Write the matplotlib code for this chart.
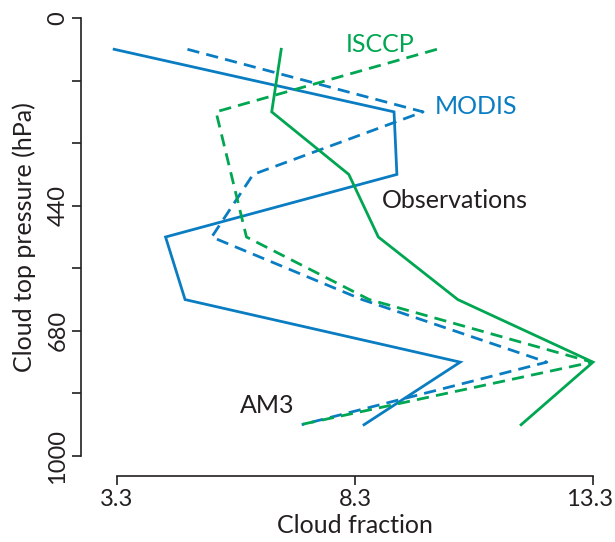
import matplotlib
matplotlib.use("Agg")
import matplotlib.pyplot as plt
import matplotlib.transforms as mtransforms
import numpy as np

# Pressure bin edges (hPa) and labelled edges
bin_edges = [0, 180, 310, 440, 560, 680, 800, 1000]
labelled_edges = [0, 440, 680, 1000]
x_ticks = [3.3, 8.3, 13.3]

# Cloud fraction per pressure bin (top to bottom)
modis_obs = [3.24, 9.12, 9.18, 4.32, 4.73, 10.51, 8.49]
modis_am3 = [4.78, 9.73, 6.16, 5.29, 8.45, 12.33, 7.18]
isccp_obs = [6.75, 6.55, 8.17, 8.79, 10.46, 13.30, 11.79]
isccp_am3 = [10.02, 5.38, 5.70, 6.02, 8.60, 13.28, 7.15]

BLUE = "#0A7DC2"
GREEN = "#00A651"
DARK = "#231F20"

plt.rcParams['font.family'] = ['Lato', 'DejaVu Sans']

fig = plt.figure(figsize=(6.15, 5.42), dpi=100)
W, H = 615, 542
ax = fig.add_axes([117 / W, (H - 456) / H, 476 / W, 438 / H])

n = len(bin_edges) - 1
centers = np.arange(n) + 0.5

lw = 2.0
dash = (0, (4.4, 2.6))
ax.plot(modis_obs, centers, color=BLUE, lw=lw, clip_on=False, solid_joinstyle='miter')
ax.plot(modis_am3, centers, color=BLUE, lw=lw, ls=dash, clip_on=False)
ax.plot(isccp_obs, centers, color=GREEN, lw=lw, clip_on=False, solid_joinstyle='miter')
ax.plot(isccp_am3, centers, color=GREEN, lw=lw, ls=dash, clip_on=False)

ax.set_xlim(3.3, 13.3)
ax.set_ylim(n, 0)

fs = 18
ax.text(8.83, 0.42, "ISCCP", color=GREEN, fontsize=fs, ha='center', va='center')
ax.text(10.84, 1.42, "MODIS", color=BLUE, fontsize=fs, ha='center', va='center')
ax.text(10.40, 2.92, "Observations", color=DARK, fontsize=fs, ha='center', va='center')
ax.text(6.45, 6.20, "AM3", color=DARK, fontsize=fs, ha='center', va='center')

# Axes styling
for s in ['top', 'right']:
    ax.spines[s].set_visible(False)
ax.spines['left'].set_position(('outward', 36 * 0.72))
ax.spines['bottom'].set_position(('outward', 20 * 0.72))
ax.spines['left'].set_bounds(0, n)
ax.spines['bottom'].set_bounds(3.3, 13.3)
for s in ['left', 'bottom']:
    ax.spines[s].set_linewidth(1.2)
    ax.spines[s].set_color(DARK)

major_idx = [bin_edges.index(p) for p in labelled_edges]
minor_idx = [i for i in range(len(bin_edges)) if i not in major_idx]
ax.set_yticks(major_idx)
ax.set_yticklabels([str(p) for p in labelled_edges], rotation=90, va='center')
ax.set_yticks(minor_idx, minor=True)
ax.set_xticks(x_ticks)
ax.set_xticklabels([f"{v:.1f}" for v in x_ticks])

ax.tick_params(axis='both', which='both', direction='out', length=6.5, width=1.2,
               color=DARK, labelcolor=DARK, labelsize=17, pad=2.5)

# nudge the last x tick label so it stays inside the figure
last = ax.get_xticklabels()[-1]
last.set_transform(last.get_transform() +
                   mtransforms.ScaledTranslation(-3 / 100, 0, fig.dpi_scale_trans))

ax.set_xlabel("Cloud fraction", fontsize=fs, color=DARK, labelpad=3)
ax.set_ylabel("Cloud top pressure (hPa)", fontsize=fs, color=DARK, labelpad=8)

fig.savefig("out.png", dpi=100)
